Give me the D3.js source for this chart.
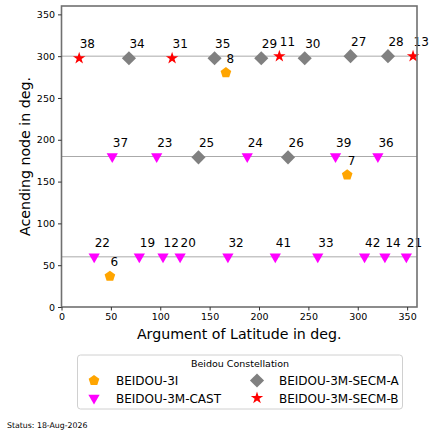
<!DOCTYPE html>
<html>
<head>
<meta charset="utf-8">
<script src="https://cdn.jsdelivr.net/npm/d3@7"></script>
<style>
  body { margin: 0; background: #fff; }
  text { font-family: "DejaVu Sans", sans-serif; fill: #000; }
</style>
</head>
<body>
<script>
// Beidou constellation, one set of arrays per satellite type
const groups = ['BEIDOU-3I', 'BEIDOU-3M-CAST', 'BEIDOU-3M-SECM-A', 'BEIDOU-3M-SECM-B']

const ids3I = [8, 7, 6]
const lat3I = [166.5, 289.3, 49]
const raan3I = [280.2, 158, 36.8]

const idsCast = [37, 23, 24, 39, 36, 22, 19, 12, 20, 32, 41, 33, 42, 14, 21]
const latCast = [51.4, 96.4, 188.1, 277.5, 320.4, 33.1, 78.8, 102.8, 120.1, 168.5, 216.5, 259.5, 306.9, 327.5, 349.2]
const raanCast = [180, 180, 180, 180, 180, 60, 60, 60, 60, 60, 60, 60, 60, 60, 60]

const idsSecmA = [34, 35, 29, 30, 27, 28, 25, 26]
const latSecmA = [68.3, 155, 202.3, 246.3, 292.7, 330.6, 138.7, 229.4]
const raanSecmA = [297.5, 297.5, 297.5, 297.5, 300, 300, 179, 179]

const idsSecmB = [38, 31, 11, 13]
const latSecmB = [17.9, 112, 220.6, 356]
const raanSecmB = [297.5, 297.5, 300, 300]

const planes = [300, 180, 60]
const ticks = [0, 50, 100, 150, 200, 250, 300, 350]

const statusText = 'Status: 18-Aug-2026'

async function init() {
  const svg = d3.select('body')
    .append('svg')
    .attr('width', 435)
    .attr('height', 437)

  const margin = { top: 6, right: 18, bottom: 130, left: 61.5 }
  const width = svg.attr('width') - margin.left - margin.right
  const height = svg.attr('height') - margin.top - margin.bottom

  const xScale = d3.scaleLinear().domain([0, 360]).range([0, width])
  const yScale = d3.scaleLinear().domain([0, 360]).range([height, 0])

  const colorScale = d3.scaleOrdinal(groups, ['#ffa500', '#ff00ff', '#808080', '#ff0000'])

  // pentagon path, radius r
  function pentagon(r) {
    const pts = d3.range(5).map(function (i) {
      const a = -Math.PI / 2 + i * 2 * Math.PI / 5
      return [r * Math.cos(a), r * Math.sin(a)]
    })
    return 'M' + pts.join('L') + 'Z'
  }
  const shapes = {
    'BEIDOU-3I': { path: pentagon(5.6), rot: 0 },
    'BEIDOU-3M-CAST': { path: d3.symbol(d3.symbolTriangle, 55)(), rot: 180 },
    'BEIDOU-3M-SECM-A': { path: d3.symbol(d3.symbolSquare, 100)(), rot: 45 },
    'BEIDOU-3M-SECM-B': { path: d3.symbol(d3.symbolStar, 48)(), rot: 0 }
  }

  const rows = []
  function addRows(group, ids, lat, raan) {
    ids.forEach(function (id, i) {
      rows.push({ group: group, id: id, lat: lat[i], raan: raan[i] })
    })
  }
  addRows('BEIDOU-3I', ids3I, lat3I, raan3I)
  addRows('BEIDOU-3M-CAST', idsCast, latCast, raanCast)
  addRows('BEIDOU-3M-SECM-A', idsSecmA, latSecmA, raanSecmA)
  addRows('BEIDOU-3M-SECM-B', idsSecmB, latSecmB, raanSecmB)

  const g = svg.append('g')
    .attr('transform', 'translate(' + margin.left + ',' + margin.top + ')')

  // plane lines
  g.selectAll('.plane')
    .data(planes)
    .enter()
    .append('line')
    .attr('x1', 0)
    .attr('x2', width)
    .attr('y1', function (d) { return yScale(d) })
    .attr('y2', function (d) { return yScale(d) })
    .attr('stroke', '#aaaaaa')
    .attr('stroke-width', 1)

  // markers
  g.selectAll('.sat')
    .data(rows)
    .enter()
    .append('path')
    .attr('d', function (d) { return shapes[d.group].path })
    .attr('transform', function (d) {
      return 'translate(' + xScale(d.lat) + ',' + yScale(d.raan) + ') rotate(' + shapes[d.group].rot + ')'
    })
    .style('fill', function (d) { return colorScale(d.group) })

  // satellite numbers
  g.selectAll('.lbl')
    .data(rows)
    .enter()
    .append('text')
    .attr('x', function (d) { return xScale(d.lat) + 0.5 })
    .attr('y', function (d) { return yScale(d.raan) - 10 })
    .style('font-size', '12px')
    .text(function (d) { return d.id })

  // axes
  const xAxis = svg.append('g')
    .attr('transform', 'translate(' + margin.left + ',' + (margin.top + height) + ')')
    .call(d3.axisBottom(xScale).tickValues(ticks).tickSize(3.5).tickPadding(3))
  const yAxis = svg.append('g')
    .attr('transform', 'translate(' + margin.left + ',' + margin.top + ')')
    .call(d3.axisLeft(yScale).tickValues(ticks).tickSize(3.5).tickPadding(3))
  xAxis.select('.domain').remove()
  yAxis.select('.domain').remove()
  svg.selectAll('.tick text').style('font-size', '9.5px').style('font-family', 'DejaVu Sans')
  svg.selectAll('.tick line').attr('stroke', '#333')

  // frame
  g.append('rect')
    .attr('width', width)
    .attr('height', height)
    .attr('fill', 'none')
    .attr('stroke', '#707070')
    .attr('stroke-width', 1.6)

  // axis labels
  svg.append('text')
    .attr('x', margin.left + width / 2)
    .attr('y', 339)
    .attr('text-anchor', 'middle')
    .style('font-size', '14.2px')
    .text('Argument of Latitude in deg.')

  svg.append('text')
    .attr('transform', 'translate(30,' + (margin.top + height / 2) + ') rotate(-90)')
    .attr('text-anchor', 'middle')
    .style('font-size', '14.2px')
    .text('Acending node in deg.')

  // legend
  const leg = svg.append('g')
  leg.append('rect')
    .attr('x', 77.5)
    .attr('y', 355)
    .attr('width', 325)
    .attr('height', 54)
    .attr('rx', 3)
    .attr('fill', '#fff')
    .attr('stroke', '#d0d0d0')
  leg.append('text')
    .attr('x', 240)
    .attr('y', 367)
    .attr('text-anchor', 'middle')
    .style('font-size', '9.5px')
    .text('Beidou Constellation')

  const legItems = leg.selectAll('.item')
    .data(groups)
    .enter()
    .append('g')
    .attr('transform', function (d, i) {
      const col = Math.floor(i / 2), row = i % 2
      return 'translate(' + (94 + col * 163) + ',' + (380.5 + row * 17.5) + ')'
    })
  legItems.append('path')
    .attr('d', function (d) { return shapes[d].path })
    .attr('transform', function (d) { return 'rotate(' + shapes[d].rot + ')' })
    .style('fill', function (d) { return colorScale(d) })
  legItems.append('text')
    .attr('x', 22)
    .attr('y', 4.5)
    .style('font-size', '12px')
    .text(function (d) { return d })

  svg.append('text')
    .attr('x', 7)
    .attr('y', 428)
    .style('font-size', '7.8px')
    .text(statusText)
}

init()
</script>
</body>
</html>
